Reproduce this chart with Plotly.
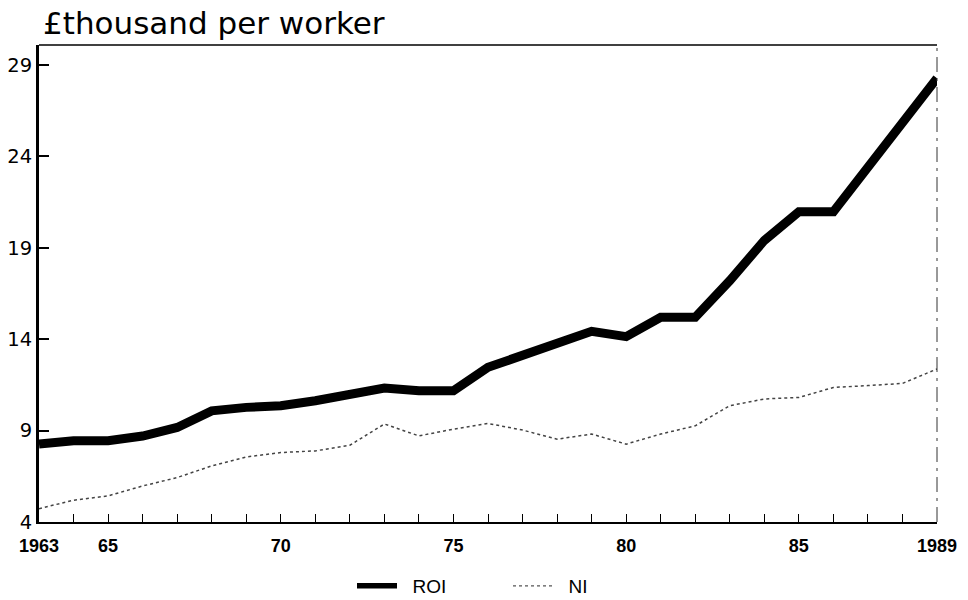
import plotly.graph_objects as go

years = list(range(1963, 1990))
roi = [8.26, 8.44, 8.44, 8.70, 9.17, 10.08, 10.27, 10.36, 10.63, 11.00, 11.33, 11.18, 11.18,
       12.46, 13.10, 13.75, 14.43, 14.14, 15.20, 15.20, 17.20, 19.40, 20.97, 20.97, 23.40, 25.84, 28.27]
ni = [4.73, 5.19, 5.43, 5.97, 6.43, 7.07, 7.56, 7.80, 7.89, 8.20, 9.36, 8.71, 9.08,
      9.39, 9.03, 8.53, 8.81, 8.26, 8.81, 9.26, 10.36, 10.73, 10.81, 11.36, 11.46, 11.58, 12.37]

x_tickvals = list(range(1963, 1990))
x_ticklabels = ["1963", "", "65", "", "", "", "", "70", "", "", "", "", "75", "", "", "", "",
                "80", "", "", "", "", "85", "", "", "", "1989"]
y_tickvals = [4, 9, 14, 19, 24, 29]
y_ticklabels = ["4", "9", "14", "19", "24", "29"]

FONT = "Liberation Sans, Arial, Helvetica, sans-serif"
WIDE = "DejaVu Sans, Verdana, sans-serif"

# The page body has an 8px margin, so the figure is sized/positioned to compensate.
W, H = 960, 592

fig = go.Figure()
fig.add_trace(go.Scatter(x=years, y=roi, mode="lines", name="ROI", showlegend=False,
                         legendgroup="roi", line=dict(color="black", width=9)))
fig.add_trace(go.Scatter(x=years, y=ni, mode="lines", name="NI", showlegend=False,
                         legendgroup="ni", line=dict(color="#444444", width=1.5, dash="dot")))
# legend-only entries (thinner sample line for ROI as in the reference)
fig.add_trace(go.Scatter(x=[None], y=[None], mode="lines", name="\u00a0\u00a0ROI", legendgroup="roi",
                         line=dict(color="black", width=5.5)))
fig.add_trace(go.Scatter(x=[None], y=[None], mode="lines", name="\u00a0\u00a0NI", legendgroup="ni",
                         line=dict(color="#555555", width=1.2, dash="dot")))

fig.update_layout(
    width=W, height=H,
    margin=dict(l=31, r=31, t=37, b=78, autoexpand=False),
    paper_bgcolor="white", plot_bgcolor="white",
    font=dict(family=FONT, color="black"),
    title=dict(text="£thousand per worker", font=dict(size=31, family=WIDE, color="black"),
               x=35/W, xanchor="left", xref="container",
               y=1-15/H, yanchor="middle", yref="container", automargin=False),
    showlegend=True,
    legend=dict(orientation="h", x=344/W, xref="container", xanchor="left",
                y=1-578/H, yref="container", yanchor="middle",
                font=dict(size=19, family=FONT, color="black"),
                entrywidth=101, entrywidthmode="pixels", itemwidth=40,
                bgcolor="rgba(0,0,0,0)"),
    xaxis=dict(range=[1963, 1989], tickvals=x_tickvals, ticktext=x_ticklabels,
               ticks="inside", ticklen=8, tickwidth=1.2, tickcolor="black",
               showline=True, linecolor="black", linewidth=2, showgrid=False, zeroline=False,
               tickfont=dict(size=18, family=FONT, weight="bold", color="black"),
               ticklabelstandoff=6, automargin=False),
    yaxis=dict(range=[4, 30.09], tickvals=y_tickvals, ticktext=y_ticklabels,
               ticks="inside", ticklen=10, tickwidth=1.5, tickcolor="black",
               showline=True, linecolor="black", linewidth=3, showgrid=False, zeroline=False,
               tickfont=dict(size=19.5, family=WIDE, color="black"),
               ticklabelstandoff=0, automargin=False),
    shapes=[
        dict(type="line", xref="paper", yref="paper", x0=0, x1=1, y0=1, y1=1,
             line=dict(color="black", width=1.5)),
        dict(type="line", xref="paper", yref="paper", x0=1, x1=1, y0=0, y1=1,
             line=dict(color="#333333", width=1, dash="longdashdot")),
    ],
)

fig.write_html("out.html")
